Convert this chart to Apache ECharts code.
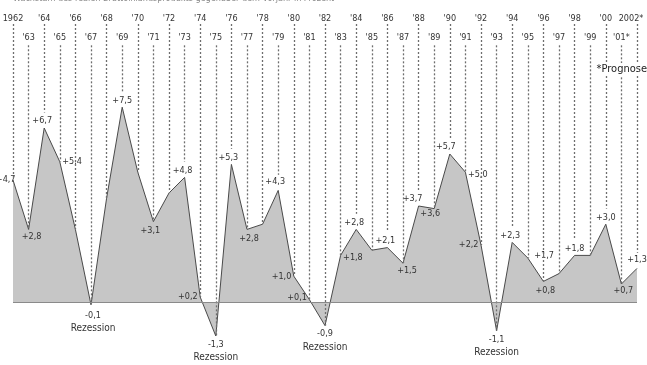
<!DOCTYPE html>
<html>
<head>
<meta charset="utf-8">
<script src="https://cdn.jsdelivr.net/npm/echarts@6/dist/echarts.min.js"></script>
<style>
  html, body { margin: 0; padding: 0; background: #fff; }
  #chart { width: 647px; height: 365px; }
</style>
</head>
<body>
<div id="chart"></div>
<script>
// Jahre (Achsenbeschriftung) und Wachstum in Prozent
var years = ['1962', "'63", "'64", "'65", "'66", "'67", "'68", "'69", "'70", "'71",
  "'72", "'73", "'74", "'75", "'76", "'77", "'78", "'79", "'80", "'81",
  "'82", "'83", "'84", "'85", "'86", "'87", "'88", "'89", "'90", "'91",
  "'92", "'93", "'94", "'95", "'96", "'97", "'98", "'99", "'00", "'01*", '2002*'];
var growth = [4.7, 2.8, 6.7, 5.4, 2.8, -0.1, 4.0, 7.5, 5.0, 3.1,
  4.2, 4.8, 0.2, -1.3, 5.3, 2.8, 3.0, 4.3, 1.0, 0.1,
  -0.9, 1.8, 2.8, 2.0, 2.1, 1.5, 3.7, 3.6, 5.7, 5.0,
  2.2, -1.1, 2.3, 1.7, 0.8, 1.1, 1.8, 1.8, 3.0, 0.7, 1.3];
// Jahre ohne Wertbeschriftung
var unlabeled = ['1966', '1968', '1970', '1972', '1978', '1985', '1997', '1999'];

// Lage der Wertbeschriftung je Punkt (Index -> Position / Versatz)
var labelPos = {
  0: ['left', [5, 0]], 1: ['bottom', [3, 0]], 2: ['top', [-2, 0]], 3: ['right', [0, 0]],
  5: ['bottom', [2, 2]], 7: ['top', [0, 0]], 9: ['bottom', [-3, 2]], 11: ['top', [-2, 0]],
  12: ['left', [0, 0]], 13: ['bottom', [0, 0]], 14: ['top', [-3, 0]], 15: ['bottom', [2, 2]],
  17: ['top', [-3, -2]], 18: ['left', [0, 0]], 19: ['left', [0, -2]], 20: ['bottom', [0, 0]],
  21: ['right', [0, 2]], 22: ['top', [-2, 0]], 24: ['top', [-2, 0]], 25: ['bottom', [4, 0]],
  26: ['top', [-6, 0]], 27: ['bottom', [-4, -2]], 28: ['top', [-4, 0]], 29: ['right', [0, 2]],
  30: ['left', [0, 0]], 31: ['bottom', [0, 0]], 32: ['top', [-2, 0]], 33: ['right', [4, -2]],
  34: ['bottom', [2, 2]], 36: ['top', [0, 0]], 38: ['top', [0, 0]], 39: ['bottom', [2, 0]],
  40: ['top', [0, -2]]
};

var font = '"DejaVu Sans Condensed", "DejaVu Sans", sans-serif';

function fmt(v) {
  var s = Math.abs(v).toFixed(1).replace('.', ',');
  return (v < 0 ? '-' : '+') + s;
}

var seriesData = [];
var guideLines = [];
for (var i = 0; i < growth.length; i++) {
  var yr = String(1962 + i);
  var v = growth[i];
  var pos = labelPos[i];
  var show = unlabeled.indexOf(yr) < 0 && !!pos;
  seriesData.push({
    value: v,
    label: {
      show: show,
      position: pos ? pos[0] : 'top',
      offset: pos ? pos[1] : [0, 0],
      distance: 2
    }
  });
  // gepunktete Hilfslinie vom Jahr bis zum Wert
  var topVal = i % 2 === 0 ? 10.7 : 9.88;
  var endVal = (show && pos[0] === 'top') ? v + 0.6 : v;
  guideLines.push([{ coord: [i, topVal] }, { coord: [i, endVal] }]);
}
guideLines.push({ yAxis: 0, lineStyle: { type: 'solid', color: '#8a8a8a', width: 1.2 } });

var chart = echarts.init(document.getElementById('chart'));
chart.setOption({
  animation: false,
  backgroundColor: '#fff',
  textStyle: { fontFamily: font },
  title: [{
    text: 'Wachstum des realen Bruttoinlandsprodukts gegenüber dem Vorjahr in Prozent',
    left: 8, top: -11,
    textStyle: { fontSize: 9, fontWeight: 'normal', color: '#888', fontFamily: font }
  }, {
    text: '*Prognose',
    right: -2, top: 63,
    backgroundColor: '#fff',
    padding: [1, 2],
    textStyle: { fontSize: 11, fontWeight: 'normal', color: '#222', fontFamily: font }
  }],
  grid: { left: 13, right: 10, top: 24, bottom: 10.8, outerBoundsMode: 'none' },
  xAxis: [{
    type: 'category',
    position: 'top',
    data: years,
    boundaryGap: false,
    axisLine: { show: false },
    axisTick: { show: false },
    axisLabel: {
      interval: function (idx) { return idx % 2 === 0; },
      formatter: function (val, idx) {
        return idx === years.length - 1 ? '{last|' + val + '}' : val;
      },
      rich: {
        last: { fontSize: 9, color: '#333', fontFamily: font, padding: [0, 12, 0, 0] }
      },
      margin: 1, fontSize: 9, color: '#333', fontFamily: font
    }
  }, {
    type: 'category',
    position: 'top',
    offset: -20,
    data: years,
    boundaryGap: false,
    axisLine: { show: false },
    axisTick: { show: false },
    axisLabel: {
      interval: function (idx) { return idx % 2 === 1; },
      margin: 2, fontSize: 9, color: '#333', fontFamily: font
    }
  }],
  yAxis: {
    type: 'value',
    min: -2,
    max: 10.7,
    show: false,
    splitLine: { show: false }
  },
  series: [{
    type: 'line',
    xAxisIndex: 0,
    data: seriesData,
    symbol: 'circle',
    symbolSize: 1,
    showSymbol: true,
    itemStyle: { color: 'rgba(0,0,0,0)' },
    lineStyle: { color: '#4a4a4a', width: 1 },
    areaStyle: { color: '#c6c6c6', opacity: 1 },
    label: {
      fontSize: 9,
      color: '#333',
      fontFamily: font,
      formatter: function (p) {
        if (p.value < 0) {
          return '{v|' + fmt(p.value) + '}\n{r|Rezession}';
        }
        return fmt(p.value);
      },
      rich: {
        v: { fontSize: 9, color: '#333', fontFamily: font, lineHeight: 12, align: 'center' },
        r: { fontSize: 10, color: '#333', fontFamily: font, lineHeight: 14, align: 'center' }
      }
    },
    markLine: {
      silent: true,
      symbol: ['none', 'none'],
      label: { show: false },
      lineStyle: { type: [2, 2], color: '#6e6e6e', width: 1.3 },
      data: guideLines
    },
    z: 3
  }]
});
</script>
</body>
</html>
